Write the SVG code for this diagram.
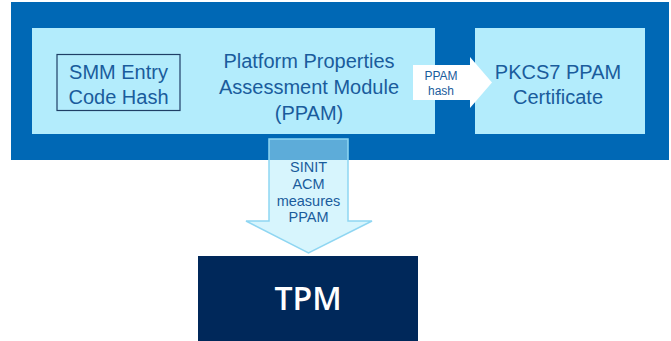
<svg xmlns="http://www.w3.org/2000/svg" width="671" height="341" viewBox="0 0 671 341">
  <style>
    .lbl { font-family: "Liberation Sans", Arial, sans-serif; fill: #1a5c9c; text-anchor: middle; }
    .big { font-size: 20px; }
    .small { font-size: 12px; }
    .mid { font-size: 14.5px; }
    .light { fill: #b3ecfc; }
  </style>
  <rect width="671" height="341" fill="#ffffff"/>

  <!-- platform container -->
  <g id="platform">
    <rect x="11" y="2" width="658" height="158" fill="#0068b5"/>
  </g>

  <!-- PPAM module with nested SMM entry hash -->
  <g id="ppam">
    <rect class="light" x="32" y="28" width="403" height="106"/>
    <text class="lbl big" x="309" y="68">Platform Properties</text>
    <text class="lbl big" x="309" y="94">Assessment Module</text>
    <text class="lbl big" x="309" y="120">(PPAM)</text>
  </g>
  <g id="smm-hash">
    <rect x="57" y="54.5" width="123" height="56" fill="none" stroke="#1f3f66" stroke-width="1.2"/>
    <text class="lbl big" x="118.5" y="79">SMM Entry</text>
    <text class="lbl big" x="118.5" y="104">Code Hash</text>
  </g>

  <!-- signed certificate -->
  <g id="certificate">
    <rect class="light" x="475" y="28" width="170" height="106"/>
    <text class="lbl big" x="558" y="79">PKCS7 PPAM</text>
    <text class="lbl big" x="558" y="104">Certificate</text>
  </g>

  <!-- TPM -->
  <g id="tpm">
    <rect x="198" y="256" width="220" height="85" fill="#00285a"/>
    <text x="308" y="310" font-family="'Open Sans', 'Liberation Sans', sans-serif" font-size="32" font-weight="600" fill="#ffffff" text-anchor="middle">TPM</text>
  </g>

  <!-- connectors -->
  <g id="connectors">
    <path d="M413 65 H470 V57 L492 82.5 L470 108 V100 H413 Z" fill="#ffffff"/>
    <text class="lbl small" x="441" y="80">PPAM</text>
    <text class="lbl small" x="441" y="95">hash</text>

    <path d="M269 139 H348 V221 H372 L308.5 253 L246 221 H269 Z" fill="#b3ecfc" fill-opacity="0.52" stroke="#8fd6f2" stroke-width="1.5"/>
    <text class="lbl mid" x="308.5" y="172">SINIT</text>
    <text class="lbl mid" x="308.5" y="189">ACM</text>
    <text class="lbl mid" x="308.5" y="206">measures</text>
    <text class="lbl mid" x="308.5" y="222">PPAM</text>
  </g>
</svg>
